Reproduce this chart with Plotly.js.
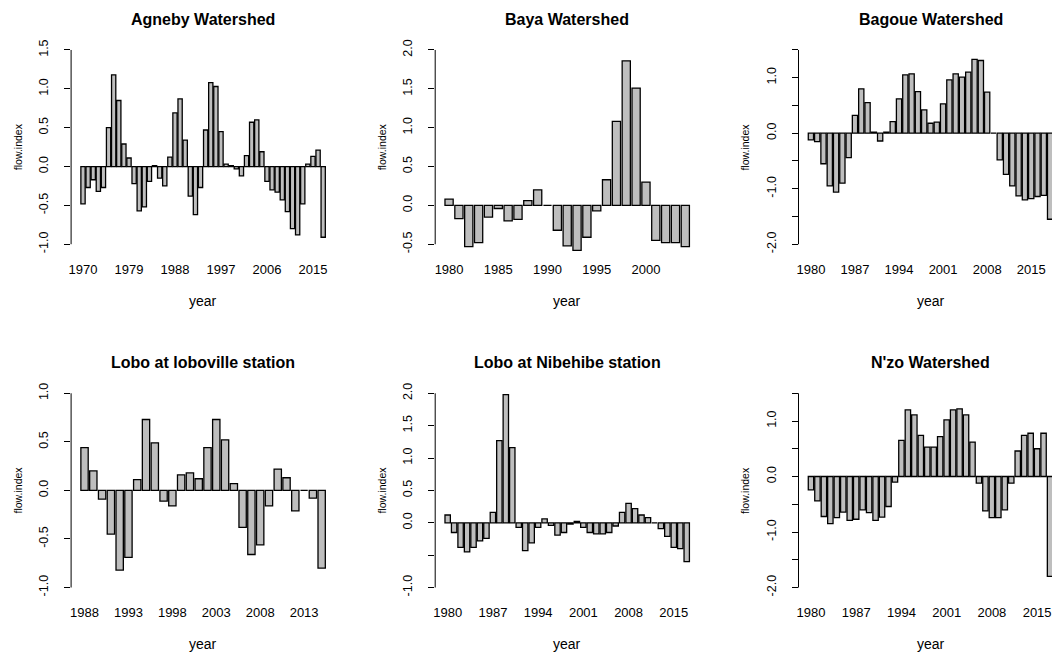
<!DOCTYPE html>
<html><head><meta charset="utf-8">
<script src="https://cdn.plot.ly/plotly-3.0.1.min.js"></script>
<style>html,body{margin:0;padding:0;background:#fff;}#chart{width:1052px;height:654px;}</style>
</head><body><div id="chart"></div>
<script>
// ---- data ----
const agnebyYears = [1970,1971,1972,1973,1974,1975,1976,1977,1978,1979,1980,1981,1982,1983,1984,1985,1986,1987,1988,1989,1990,1991,1992,1993,1994,1995,1996,1997,1998,1999,2000,2001,2002,2003,2004,2005,2006,2007,2008,2009,2010,2011,2012,2013,2014,2015,2016,2017];
const agnebyFlow = [-0.48,-0.27,-0.17,-0.32,-0.27,0.50,1.18,0.85,0.29,0.11,-0.22,-0.57,-0.52,-0.19,0.01,-0.15,-0.25,0.12,0.69,0.87,0.34,-0.38,-0.62,-0.27,0.47,1.08,1.03,0.45,0.03,0.01,-0.03,-0.12,0.14,0.57,0.60,0.19,-0.19,-0.30,-0.33,-0.43,-0.58,-0.80,-0.88,-0.48,0.03,0.13,0.21,-0.91];
const agnebyXLabels = [1970,1979,1988,1997,2006,2015];

const bayaYears = [1980,1981,1982,1983,1984,1985,1986,1987,1988,1989,1990,1991,1992,1993,1994,1995,1996,1997,1998,1999,2000,2001,2002,2003,2004];
const bayaFlow = [0.08,-0.17,-0.53,-0.48,-0.15,-0.04,-0.20,-0.18,0.06,0.20,0,-0.32,-0.52,-0.58,-0.41,-0.07,0.33,1.08,1.86,1.51,0.30,-0.45,-0.48,-0.48,-0.53];
const bayaXLabels = [1980,1985,1990,1995,2000];

const bagoueYears = [1980,1981,1982,1983,1984,1985,1986,1987,1988,1989,1990,1991,1992,1993,1994,1995,1996,1997,1998,1999,2000,2001,2002,2003,2004,2005,2006,2007,2008,2009,2010,2011,2012,2013,2014,2015,2016,2017,2018];
const bagoueFlow = [-0.12,-0.15,-0.55,-0.95,-1.06,-0.90,-0.44,0.32,0.80,0.55,0.02,-0.14,0.02,0.21,0.62,1.05,1.07,0.75,0.42,0.18,0.20,0.53,0.96,1.07,1.01,1.10,1.33,1.31,0.74,0,-0.48,-0.74,-0.95,-1.13,-1.20,-1.18,-1.14,-1.12,-1.55];
const bagoueXLabels = [1980,1987,1994,2001,2008,2015];

const lobovilleYears = [1988,1989,1990,1991,1992,1993,1994,1995,1996,1997,1998,1999,2000,2001,2002,2003,2004,2005,2006,2007,2008,2009,2010,2011,2012,2013,2014,2015];
const lobovilleFlow = [0.44,0.20,-0.09,-0.45,-0.82,-0.69,0.11,0.73,0.49,-0.11,-0.16,0.16,0.18,0.12,0.44,0.73,0.52,0.07,-0.38,-0.66,-0.56,-0.16,0.22,0.13,-0.21,0,-0.08,-0.80];
const lobovilleXLabels = [1988,1993,1998,2003,2008,2013];

const nibehibeYears = [1980,1981,1982,1983,1984,1985,1986,1987,1988,1989,1990,1991,1992,1993,1994,1995,1996,1997,1998,1999,2000,2001,2002,2003,2004,2005,2006,2007,2008,2009,2010,2011,2012,2013,2014,2015,2016,2017];
const nibehibeFlow = [0.12,-0.15,-0.38,-0.45,-0.38,-0.28,-0.24,0.16,1.27,1.98,1.16,-0.07,-0.43,-0.31,-0.07,0.06,-0.04,-0.19,-0.15,-0.02,0.02,-0.07,-0.15,-0.17,-0.17,-0.15,-0.05,0.16,0.30,0.22,0.12,0.08,0,-0.09,-0.21,-0.38,-0.40,-0.60];
const nibehibeXLabels = [1980,1987,1994,2001,2008,2015];

const nzoYears = [1980,1981,1982,1983,1984,1985,1986,1987,1988,1989,1990,1991,1992,1993,1994,1995,1996,1997,1998,1999,2000,2001,2002,2003,2004,2005,2006,2007,2008,2009,2010,2011,2012,2013,2014,2015,2016,2017];
const nzoFlow = [-0.24,-0.44,-0.72,-0.85,-0.74,-0.64,-0.79,-0.77,-0.60,-0.65,-0.79,-0.73,-0.54,-0.10,0.65,1.20,1.11,0.74,0.53,0.53,0.72,1.02,1.20,1.22,1.11,0.62,-0.12,-0.62,-0.74,-0.74,-0.60,-0.12,0.46,0.74,0.78,0.50,0.78,-1.80];
const nzoXLabels = [1980,1987,1994,2001,2008,2015];

const yTicksA = [-1,-0.5,0,0.5,1,1.5];   const yLabelsA = ['-1.0','-0.5','0.0','0.5','1.0','1.5'];
const yTicksB = [-0.5,0,0.5,1,1.5,2];    const yLabelsB = ['-0.5','0.0','0.5','1.0','1.5','2.0'];
const yTicksC = [-2,-1.5,-1,-0.5,0,0.5,1,1.5]; const yLabelsC = ['-2.0','','-1.0','','0.0','','1.0',''];
const yTicksD = [-1,-0.5,0,0.5,1];       const yLabelsD = ['-1.0','-0.5','0.0','0.5','1.0'];
const yTicksE = [-1,-0.5,0,0.5,1,1.5,2]; const yLabelsE = ['-1.0','','0.0','0.5','1.0','1.5','2.0'];

const titles = ['Agneby Watershed','Baya Watershed','Bagoue Watershed','Lobo at loboville station','Lobo at Nibehibe station',"N'zo Watershed"];
const xTitle = 'year';
const yTitle = 'flow.index';

// ---- layout geometry ----
const W = 1052, H = 654;
const FONT = 'Liberation Sans, Arial, sans-serif';
const colLeft = [71.1, 435.2, 798.5];
const plotW = 264;
const rowTop = [42.2, 385.5];
const plotH = 209.8;

const panels = [
  {years: agnebyYears, flow: agnebyFlow, xl: agnebyXLabels, yv: yTicksA, yt: yLabelsA, col: 0, row: 0},
  {years: bayaYears, flow: bayaFlow, xl: bayaXLabels, yv: yTicksB, yt: yLabelsB, col: 1, row: 0},
  {years: bagoueYears, flow: bagoueFlow, xl: bagoueXLabels, yv: yTicksC, yt: yLabelsC, col: 2, row: 0},
  {years: lobovilleYears, flow: lobovilleFlow, xl: lobovilleXLabels, yv: yTicksD, yt: yLabelsD, col: 0, row: 1},
  {years: nibehibeYears, flow: nibehibeFlow, xl: nibehibeXLabels, yv: yTicksE, yt: yLabelsE, col: 1, row: 1},
  {years: nzoYears, flow: nzoFlow, xl: nzoXLabels, yv: yTicksC, yt: yLabelsC, col: 2, row: 1}
];

const data = [];
const layout = {
  width: W, height: H,
  margin: {l: 0, r: 0, t: 0, b: 0},
  paper_bgcolor: '#ffffff', plot_bgcolor: 'rgba(0,0,0,0)',
  showlegend: false,
  font: {family: FONT, color: '#000', size: 13},
  shapes: [], annotations: []
};

panels.forEach((p, i) => {
  const xn = i === 0 ? 'x' : 'x' + (i + 1);
  const yn = i === 0 ? 'y' : 'y' + (i + 1);
  const xk = i === 0 ? 'xaxis' : 'xaxis' + (i + 1);
  const yk = i === 0 ? 'yaxis' : 'yaxis' + (i + 1);
  data.push({
    type: 'bar', x: p.years, y: p.flow, xaxis: xn, yaxis: yn,
    width: 1 / 1.2,
    marker: {color: '#bebebe', line: {color: '#000000', width: 1.3}},
    hoverinfo: 'skip'
  });
  // R barplot-like x range (bar width 1, space 0.2, 4% padding)
  const n = p.years.length;
  const w = 1.2 * n - 0.2;
  const left = p.years[0] + (-0.5 - 0.04 * w) / 1.2;
  const right = p.years[0] + (1.04 * w - 0.5) / 1.2;
  const x0px = colLeft[p.col];
  let x1px = x0px + plotW;
  let rRight = right;
  if (x1px > W) { rRight = left + (right - left) * (W - x0px) / plotW; x1px = W; }
  const ymin = p.yv[0], ymax = p.yv[p.yv.length - 1];
  const pad = 0.04 * (ymax - ymin);
  const top = rowTop[p.row], bot = top + plotH;
  layout[xk] = {
    domain: [x0px / W, x1px / W], range: [left, rRight], anchor: yn,
    tickmode: 'array', tickvals: p.xl, ticktext: p.xl.map(String),
    ticks: '', showline: false, showgrid: false, zeroline: false,
    tickfont: {size: 13, family: FONT, color: '#000'}, ticklabelstandoff: 8,
    fixedrange: true
  };
  layout[yk] = {
    domain: [1 - bot / H, 1 - top / H], range: [ymin - pad, ymax + pad], anchor: xn,
    tickmode: 'array', tickvals: p.yv, ticktext: p.yt,
    ticks: 'outside', ticklen: 6, tickwidth: 1, tickcolor: '#000',
    tickangle: -90, showline: false, showgrid: false, zeroline: false,
    tickfont: {size: 12.5, family: FONT, color: '#000'}, ticklabelstandoff: 11,
    fixedrange: true
  };
  // y axis line spanning first..last tick, like R's axis()
  layout.shapes.push({type: 'line', xref: 'paper', yref: yn, x0: x0px / W, x1: x0px / W,
    y0: ymin, y1: ymax, line: {color: '#000', width: 1}});
  const cx = (x0px + plotW / 2) / W;
  layout.annotations.push({text: '<b>' + titles[i] + '</b>', xref: 'paper', yref: 'paper',
    x: cx, y: 1 - (top - 23) / H, xanchor: 'center', yanchor: 'middle', showarrow: false,
    font: {size: 16, family: FONT, color: '#000'}});
  layout.annotations.push({text: xTitle, xref: 'paper', yref: 'paper',
    x: cx, y: 1 - (bot + 49) / H, xanchor: 'center', yanchor: 'middle', showarrow: false,
    font: {size: 14, family: FONT, color: '#000'}});
  layout.annotations.push({text: yTitle, xref: 'paper', yref: 'paper', textangle: -90,
    x: (x0px - 53) / W, y: 1 - (top + plotH / 2) / H, xanchor: 'center', yanchor: 'middle', showarrow: false,
    font: {size: 10.5, family: FONT, color: '#000'}});
});

Plotly.newPlot('chart', data, layout, {displayModeBar: false, staticPlot: true});
</script>
</body></html>
